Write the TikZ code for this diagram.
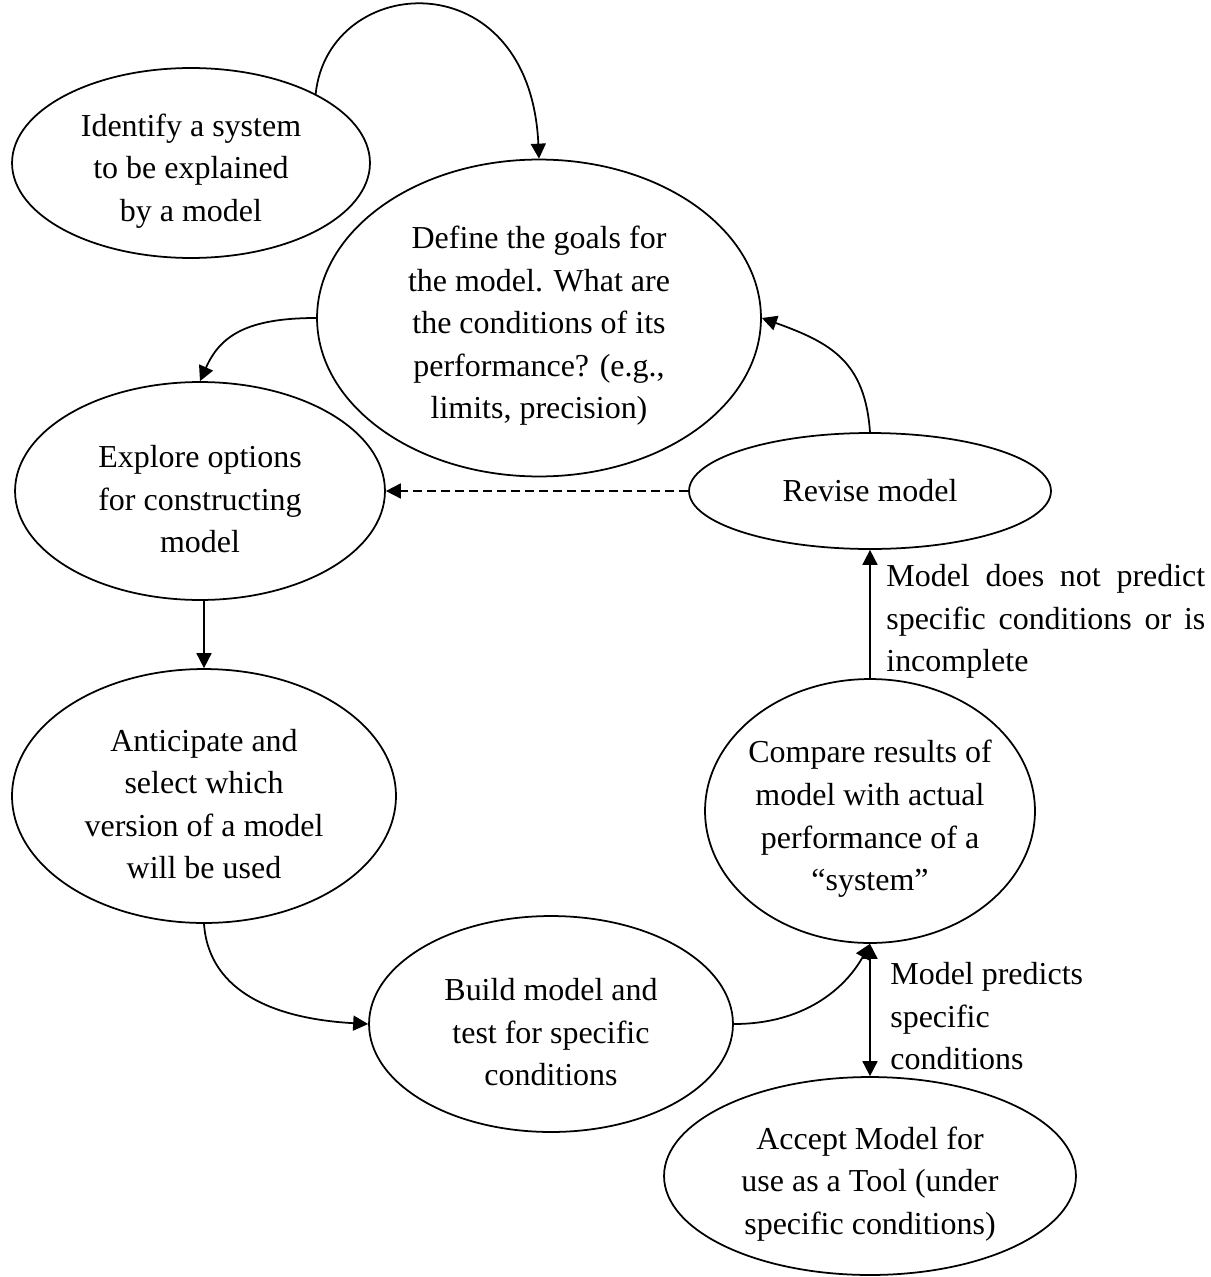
\documentclass[tikz,border=0pt]{standalone}
\usepackage{fontspec}
\setmainfont{Liberation Serif}
\usetikzlibrary{shapes.geometric,arrows.meta}
\newcommand{\fsz}{\fontsize{18.2pt}{24.2pt}\selectfont}
\newcommand{\tp}{\rule{0pt}{1.2em}}
\begin{document}
\begin{tikzpicture}[x=0.02cm,y=-0.02cm,
  ell/.style={ellipse,draw,line width=1pt,inner sep=-1cm,align=center,font=\fsz},
  arr/.style={-{Triangle[length=0.3cm,width=0.3cm]},line width=1pt},
  dbl/.style={{Triangle[length=0.3cm,width=0.3cm]}-{Triangle[length=0.3cm,width=0.3cm]},line width=1pt},
  lbl/.style={inner sep=0pt,align=left,font=\fsz,anchor=north west}]
\useasboundingbox (0,0) rectangle (1210,1277);
\node[ell,minimum width=7.16cm,minimum height=3.8cm] (ident) at (191,163) {\tp Identify a system\\to be explained\\by a model};
\node[ell,minimum width=8.88cm,minimum height=6.34cm] (goals) at (539,318) {\tp Define the goals for\\the model. What are\\the conditions of its\\performance? (e.g.,\\limits, precision)};
\node[ell,minimum width=7.4cm,minimum height=4.36cm] (explore) at (200,491) {\tp Explore options\\for constructing\\model};
\node[ell,minimum width=7.24cm,minimum height=2.32cm] (revise) at (870,491) {Revise model};
\node[ell,minimum width=7.68cm,minimum height=5.08cm] (antic) at (204,796) {\tp Anticipate and\\select which\\version of a model\\will be used};
\node[ell,minimum width=7.28cm,minimum height=4.32cm] (build) at (551,1024) {\tp Build model and\\test for specific\\conditions};
\node[ell,minimum width=6.6cm,minimum height=5.28cm] (compare) at (870,811) {\tp Compare results of\\model with actual\\performance of a\\“system”};
\node[ell,minimum width=8.24cm,minimum height=3.96cm] (accept) at (870,1176) {\tp Accept Model for\\use as a Tool (under\\specific conditions)};

\node[lbl] (lab1) at (886,564) {\makebox[6.38cm][s]{Model does not predict}\\\makebox[6.38cm][s]{specific conditions or is}\\incomplete};
\node[lbl] (lab2) at (890,962) {Model predicts\\specific\\conditions};

\draw[arr] (ident.29) .. controls +(13,-122) and +(-9,-200) .. (goals.north);
\draw[arr] (goals.west) .. controls +(-70,0) and +(20,-45) .. (explore.north);
\draw[arr,dash pattern=on 0.18cm off 0.1cm] (revise.west) -- (explore.east);
\draw[arr] (antic.north |- explore.south) -- (antic.north);
\draw[arr] (antic.south) .. controls +(5,70) and +(-90,-5) .. (build.west);
\draw[arr] (build.east) .. controls +(70,0) and +(-25,45) .. (compare.south);
\draw[dbl] (compare.south) -- (accept.north);
\draw[arr] (compare.north) -- (revise.south);
\draw[arr] (revise.north) .. controls +(-5,-70) and +(70,25) .. (goals.east);
\end{tikzpicture}
\end{document}
